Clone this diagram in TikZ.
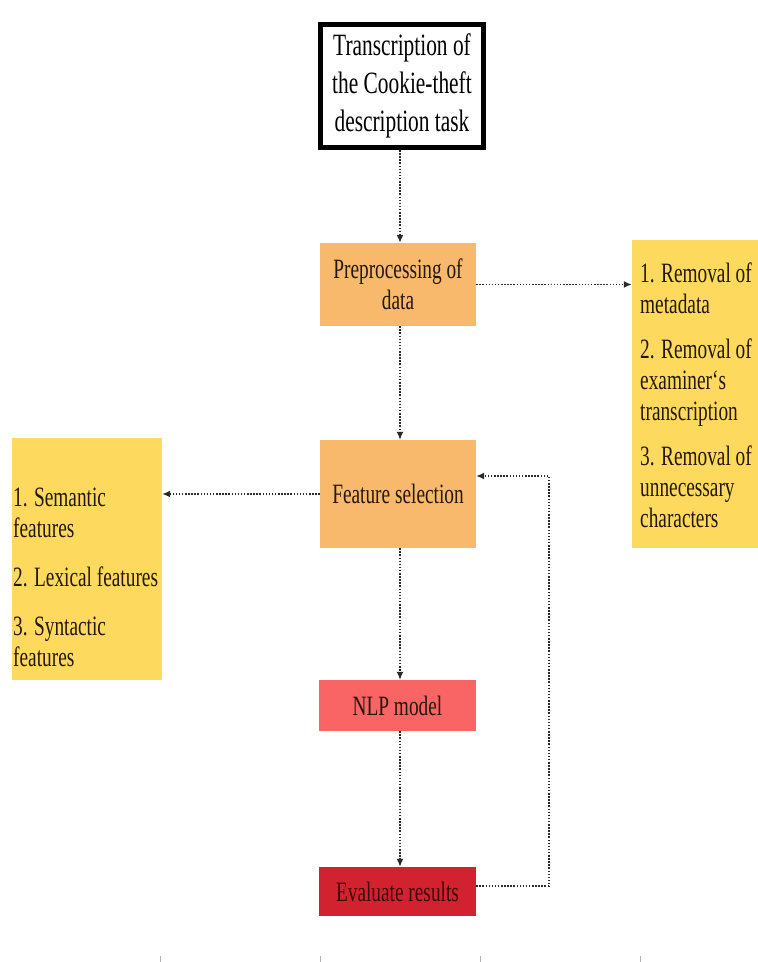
\documentclass[tikz,border=0pt]{standalone}
\usepackage{fontspec}
\setmainfont{Liberation Serif}[FakeStretch=0.69]
\usetikzlibrary{arrows.meta}
\definecolor{boxorange}{HTML}{F9B96C}
\definecolor{boxyellow}{HTML}{FDD95E}
\definecolor{boxsalmon}{HTML}{F96464}
\definecolor{boxred}{HTML}{D3222F}
\definecolor{txtdark}{HTML}{24180A}
\definecolor{txtred}{HTML}{3A0808}
\definecolor{linegray}{HTML}{2A2A2A}
\tikzset{
  x=1pt, y=-1pt,
  bigfont/.style={font=\fontsize{31}{38}\selectfont},
  smallfont/.style={font=\fontsize{28}{31}\selectfont},
  flowbox/.style={rectangle, inner sep=0pt, smallfont, text=txtdark, align=center},
  listtext/.style={inner sep=0pt, smallfont, text=txtdark, align=left, anchor=west},
  conn/.style={draw=linegray, line width=1.5pt, dash pattern=on 1.5pt off 1.6pt,
    -{Latex[length=8pt,width=7pt]}},
  tick/.style={draw=gray!60, line width=0.8pt}
}
\begin{document}
\begin{tikzpicture}
\useasboundingbox (0,0) rectangle (758,962);
\fill[white] (0,0) rectangle (758,962);

\coordinate (axis) at (400,0);

\node[flowbox, bigfont, text=black, draw=black, line width=5pt, fill=white,
  minimum width=163pt, minimum height=123pt] (top) at (402,86)
  {Transcription of\\the Cookie-theft\\description task};

\node[flowbox, fill=boxorange, minimum width=156pt, minimum height=83pt] (pre) at (398,284.5)
  {Preprocessing of\\data};

\node[rectangle, fill=boxyellow, minimum width=126pt, minimum height=308pt, inner sep=0pt] (R) at (695,394) {};
\node[listtext] (Rtxt) at (640,395)
  {1. Removal of\\metadata\\[14pt]2. Removal of\\examiner`s\\transcription\\[14pt]3. Removal of\\unnecessary\\characters};

\node[flowbox, fill=boxorange, minimum width=156pt, minimum height=108pt] (feat) at (398,494)
  {Feature selection};

\node[rectangle, fill=boxyellow, minimum width=150pt, minimum height=242pt, inner sep=0pt] (L) at (87,559) {};
\node[listtext] (Ltxt) at (13,577)
  {1. Semantic\\features\\[18pt]2. Lexical features\\[18pt]3. Syntactic\\features};

\node[flowbox, fill=boxsalmon, minimum width=157pt, minimum height=51pt] (nlp) at (397.5,705.5)
  {NLP model};

\node[flowbox, fill=boxred, text=txtred, minimum width=157pt, minimum height=49pt] (eval) at (397.5,891.5)
  {Evaluate results};

\draw[conn] (top.south -| axis) -- (pre.north -| axis);
\draw[conn] (pre.east) -- (pre.east -| R.west);
\draw[conn] (pre.south -| axis) -- (feat.north -| axis);
\draw[conn] (feat.west) -- (feat.west -| L.east);
\draw[conn] (feat.south -| axis) -- (nlp.north -| axis);
\draw[conn] (nlp.south -| axis) -- (eval.north -| axis);

\coordinate (fb1) at (549,886);
\coordinate (fb2) at (549,476);
\draw[conn] (eval.east |- fb1) -- (fb1) -- (fb2) -- (feat.east |- fb2);

\foreach \i/\xx in {1/160,2/320,3/480,4/640}{
  \coordinate (t\i) at (\xx,956);
  \draw[tick] (t\i) -- ++(0,6);
}
\end{tikzpicture}
\end{document}
